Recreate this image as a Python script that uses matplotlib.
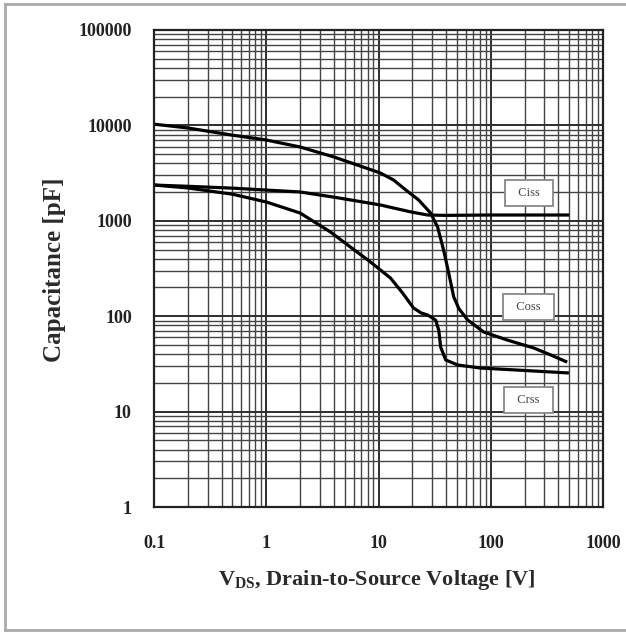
import matplotlib
matplotlib.use("Agg")
import matplotlib.pyplot as plt
from matplotlib.lines import Line2D
from matplotlib.ticker import LogLocator, FixedLocator, NullFormatter

plt.rcParams['font.family'] = ['Liberation Serif', 'DejaVu Serif']
plt.rcParams['mathtext.fontset'] = 'custom'
plt.rcParams['mathtext.rm'] = 'Liberation Serif'
plt.rcParams['mathtext.bf'] = 'Liberation Serif:bold'

# curves
coss_v = [0.1, 0.2, 0.5, 1, 2, 4, 10.4, 13.6, 18, 22.8, 29.1, 33.6, 38, 42.2, 46.8, 52, 62.4, 86.6, 142, 242, 343, 480]
coss_c = [10300, 9400, 7900, 7030, 5940, 4670, 3170, 2680, 2050, 1652, 1207, 861, 494, 284, 159, 120, 91, 68.3, 56, 46.4, 39.2, 33]

ciss_v = [0.1, 0.2, 0.5, 1, 2, 4, 10.4, 13.6, 20, 27.4, 40, 100, 500]
ciss_c = [2370, 2300, 2200, 2100, 2005, 1770, 1466, 1362, 1230, 1150, 1140, 1150, 1150]

crss_v = [0.1, 0.2, 0.5, 1, 2, 3.73, 5.62, 8.48, 12.8, 16.4, 20.5, 24, 27.4, 32.3, 34.4, 35.8, 39.7, 50.7, 81.5, 150, 497]
crss_c = [2370, 2210, 1900, 1575, 1207, 764, 531, 370, 251, 175, 122, 108, 103, 91, 71.6, 47.5, 34.8, 30.8, 28.6, 27.5, 25.4]

labels = ['Ciss', 'Coss', 'Crss']
label_x = [218, 218, 218]
label_y = [1955, 125, 13.2]

fig = plt.figure(figsize=(6.26, 6.33), dpi=100)
ax = fig.add_axes([154 / 626, 1 - 507 / 633, 449 / 626, 477 / 633])

ax.set_xscale('log')
ax.set_yscale('log')
ax.set_xlim(0.1, 1000)
ax.set_ylim(1, 100000)

ax.xaxis.set_major_locator(FixedLocator([0.1, 1, 10, 100, 1000]))
ax.yaxis.set_major_locator(FixedLocator([1, 10, 100, 1000, 10000, 100000]))
ax.xaxis.set_minor_locator(LogLocator(base=10, subs=range(2, 10), numticks=20))
ax.yaxis.set_minor_locator(LogLocator(base=10, subs=range(2, 10), numticks=20))
ax.xaxis.set_minor_formatter(NullFormatter())
ax.yaxis.set_minor_formatter(NullFormatter())
ax.set_xticklabels(['0.1', '1', '10', '100', '1000'])
ax.set_yticklabels(['1', '10', '100', '1000', '10000', '100000'])

ax.grid(True, which='major', color='#2e2e2e', linewidth=1.4)
ax.grid(True, which='minor', color='#444444', linewidth=1.0)
ax.tick_params(which='both', length=0)
ax.tick_params(axis='x', pad=20, labelsize=13, colors='#222222')
ax.tick_params(axis='y', pad=16, labelsize=13, colors='#222222')
for lab in ax.get_xticklabels() + ax.get_yticklabels():
    lab.set_fontweight('bold')
for s in ax.spines.values():
    s.set_linewidth(1.6)
    s.set_color('#222222')

for v, c in [(coss_v, coss_c), (ciss_v, ciss_c), (crss_v, crss_c)]:
    ax.plot(v, c, color='black', linewidth=2.3, solid_capstyle='butt', solid_joinstyle='round')

for name, xx, yy in zip(labels, label_x, label_y):
    ax.text(xx, yy, '  ' + name + '  ', fontsize=9, ha='center', va='center', color='#444444',
            bbox=dict(boxstyle='square,pad=0.55', facecolor='white', edgecolor='#888888', linewidth=1.3))

fig.text(54 / 626, 1 - 270 / 633, 'Capacitance [pF]', rotation=90, ha='center', va='center',
         fontsize=18, fontweight='bold', color='#2a2a2a')
fig.text(377 / 626, 1 - 580 / 633, r'$\mathbf{V_{DS}}$, Drain-to-Source Voltage [V]', ha='center', va='center',
         fontsize=16, fontweight='bold', color='#2a2a2a')

# outer frame of the screenshot
fig.add_artist(Line2D([5 / 626, 5 / 626], [1 - 4 / 633, 1 - 630 / 633], transform=fig.transFigure, color='#aaaaaa', linewidth=2))
fig.add_artist(Line2D([5 / 626, 1], [1 - 4 / 633, 1 - 4 / 633], transform=fig.transFigure, color='#aaaaaa', linewidth=2))
fig.add_artist(Line2D([5 / 626, 1], [1 - 630 / 633, 1 - 630 / 633], transform=fig.transFigure, color='#aaaaaa', linewidth=2))

fig.savefig('out.png', dpi=100)
